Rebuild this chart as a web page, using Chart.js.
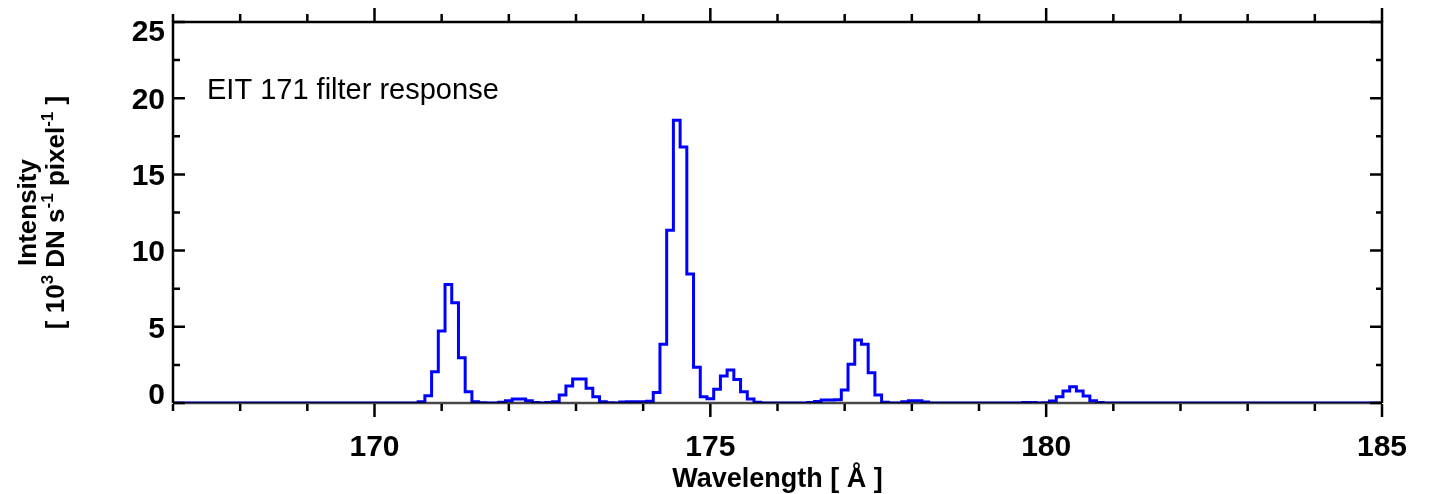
<!DOCTYPE html>
<html>
<head>
<meta charset="utf-8">
<script src="https://cdn.jsdelivr.net/npm/chart.js@4/dist/chart.umd.min.js"></script>
<style>
  html, body { margin: 0; padding: 0; background: #fff; }
  canvas { display: block; }
</style>
</head>
<body>
<canvas id="eitChart" width="1432" height="494"></canvas>
<script>
// EIT 171 filter response, 0.1 A bins (bin centres), intensity in 10^3 DN/s/pixel
const wavelengths = [
  167.0, 170.6, 170.7, 170.8, 170.9, 171.0, 171.1, 171.2, 171.3, 171.4, 171.5, 171.6, 171.7, 171.8,
  171.9, 172.0, 172.1, 172.2, 172.3, 172.4, 172.5, 172.6, 172.7, 172.8, 172.9, 173.0, 173.1, 173.2,
  173.3, 173.4, 173.5, 173.6, 173.7, 173.8, 173.9, 174.0, 174.1, 174.2, 174.3, 174.4, 174.5, 174.6,
  174.7, 174.8, 174.9, 175.0, 175.1, 175.2, 175.3, 175.4, 175.5, 175.6, 175.7, 175.8, 176.4, 176.5,
  176.6, 176.7, 176.8, 176.9, 177.0, 177.1, 177.2, 177.3, 177.4, 177.5, 177.6, 177.7, 177.8, 177.9,
  178.0, 178.1, 178.2, 178.3, 179.6, 179.7, 179.8, 179.9, 180.0, 180.1, 180.2, 180.3, 180.4, 180.5,
  180.6, 180.7, 180.8, 180.9, 185.0
];
const intensity = [
  0, 0, 0.09, 0.48, 2.05, 4.72, 7.78, 6.58, 2.97, 0.74, 0.09, 0.02, 0, 0,
  0.05, 0.15, 0.26, 0.26, 0.15, 0.03, 0, 0.03, 0.09, 0.52, 1.11, 1.57, 1.57, 0.96,
  0.41, 0.09, 0.02, 0, 0.06, 0.09, 0.09, 0.08, 0.12, 0.69, 3.85, 11.34, 18.56, 16.8,
  8.46, 2.34, 0.41, 0.28, 0.90, 1.77, 2.16, 1.55, 0.74, 0.26, 0.05, 0, 0, 0.03,
  0.1, 0.2, 0.2, 0.22, 0.85, 2.54, 4.13, 3.85, 1.99, 0.52, 0.05, 0, 0, 0.08,
  0.15, 0.15, 0.06, 0, 0, 0.04, 0.04, 0, 0.02, 0.13, 0.41, 0.79, 1.07, 0.79,
  0.46, 0.15, 0.03, 0, 0
];

const xMajorTicks = [170, 175, 180, 185];
const xMinorTicks = [167, 168, 169, 171, 172, 173, 174, 176, 177, 178, 179, 181, 182, 183, 184];
const yMajorTicks = [0, 5, 10, 15, 20, 25];
const yMinorTicks = [2.5, 7.5, 12.5, 17.5, 22.5];

const FONT = '"Liberation Sans", Arial, Helvetica, sans-serif';

// draws text runs, some of them raised as superscripts
function drawRuns(ctx, runs, x, y, size) {
  let cx = x;
  runs.forEach(([txt, sup]) => {
    const s = sup ? Math.round(size * 0.64) : size;
    ctx.font = `bold ${s}px ${FONT}`;
    ctx.fillText(txt, cx, sup ? y - size * 0.42 : y);
    cx += ctx.measureText(txt).width;
  });
}
function runsWidth(ctx, runs, size) {
  let w = 0;
  runs.forEach(([txt, sup]) => {
    const s = sup ? Math.round(size * 0.64) : size;
    ctx.font = `bold ${s}px ${FONT}`;
    w += ctx.measureText(txt).width;
  });
  return w;
}

const framePlugin = {
  id: 'frame',
  afterDatasetsDraw(chart) {
    const { ctx, chartArea: a, scales: { x, y } } = chart;
    ctx.save();
    ctx.strokeStyle = '#000';
    ctx.lineWidth = 2.5;
    ctx.lineCap = 'butt';

    ctx.beginPath();
    ctx.moveTo(a.left, a.bottom);
    ctx.lineTo(a.left, a.top);
    ctx.lineTo(a.right, a.top);
    ctx.lineTo(a.right, a.bottom);
    ctx.stroke();

    // bottom edge sits on the zero line of the trace
    ctx.strokeStyle = 'rgba(0,0,0,0.72)';
    ctx.beginPath();
    ctx.moveTo(a.left, a.bottom);
    ctx.lineTo(a.right, a.bottom);
    ctx.stroke();
    ctx.strokeStyle = '#000';

    // x ticks point outward on both bottom and top
    ctx.beginPath();
    xMajorTicks.forEach(v => {
      const px = x.getPixelForValue(v);
      ctx.moveTo(px, a.bottom + 1); ctx.lineTo(px, a.bottom + 14);
      ctx.moveTo(px, a.top); ctx.lineTo(px, a.top - 14);
    });
    xMinorTicks.forEach(v => {
      const px = x.getPixelForValue(v);
      ctx.moveTo(px, a.bottom + 1); ctx.lineTo(px, a.bottom + 8);
      ctx.moveTo(px, a.top); ctx.lineTo(px, a.top - 8);
    });
    // y ticks point inward on both sides
    yMajorTicks.forEach(v => {
      const py = y.getPixelForValue(v);
      ctx.moveTo(a.left, py); ctx.lineTo(a.left + 12, py);
      ctx.moveTo(a.right, py); ctx.lineTo(a.right - 12, py);
    });
    yMinorTicks.forEach(v => {
      const py = y.getPixelForValue(v);
      ctx.moveTo(a.left, py); ctx.lineTo(a.left + 7, py);
      ctx.moveTo(a.right, py); ctx.lineTo(a.right - 6, py);
    });
    ctx.stroke();

    ctx.fillStyle = '#000';
    ctx.font = `bold 30px ${FONT}`;
    ctx.textBaseline = 'alphabetic';

    // y tick labels, kept inside the axis range
    ctx.textAlign = 'right';
    yMajorTicks.forEach(v => {
      let cy = y.getPixelForValue(v);
      cy = Math.min(Math.max(cy, a.top + 8), a.bottom - 10);
      ctx.fillText(String(v), a.left - 8, cy + 10.7);
    });

    ctx.textAlign = 'center';
    xMajorTicks.forEach(v => {
      ctx.fillText(String(v), x.getPixelForValue(v), 456);
    });

    // axis titles
    ctx.font = `bold 27px ${FONT}`;
    ctx.fillText('Wavelength [ Å ]', (a.left + a.right) / 2, 487);

    const midY = (a.top + a.bottom) / 2;
    ctx.save();
    ctx.translate(36, midY);
    ctx.rotate(-Math.PI / 2);
    ctx.textAlign = 'center';
    ctx.font = `bold 26px ${FONT}`;
    ctx.fillText('Intensity', 0, 0);
    ctx.restore();

    const unitRuns = [['[ 10', false], ['3', true], [' DN s', false], ['-1', true], [' pixel', false], ['-1', true], [' ]', false]];
    ctx.save();
    ctx.translate(64, midY);
    ctx.rotate(-Math.PI / 2);
    ctx.textAlign = 'left';
    const w = runsWidth(ctx, unitRuns, 26);
    drawRuns(ctx, unitRuns, -w / 2, 0, 26);
    ctx.restore();

    ctx.textAlign = 'left';
    ctx.font = `29px ${FONT}`;
    ctx.fillText('EIT 171 filter response', 207, 99);
    ctx.restore();
  }
};

new Chart(document.getElementById('eitChart'), {
  type: 'line',
  data: {
    datasets: [{
      data: wavelengths.map((w, i) => ({ x: w, y: intensity[i] })),
      stepped: 'middle',
      borderColor: '#0000ff',
      borderWidth: 3,
      borderJoinStyle: 'miter',
      pointRadius: 0,
      fill: false
    }]
  },
  options: {
    responsive: false,
    animation: false,
    layout: { padding: { left: 173, right: 50, top: 22, bottom: 91 } },
    scales: {
      x: { type: 'linear', min: 167, max: 185, display: false },
      y: { min: 0, max: 25, display: false }
    },
    plugins: { legend: { display: false }, tooltip: { enabled: false } }
  },
  plugins: [framePlugin]
});
</script>
</body>
</html>
